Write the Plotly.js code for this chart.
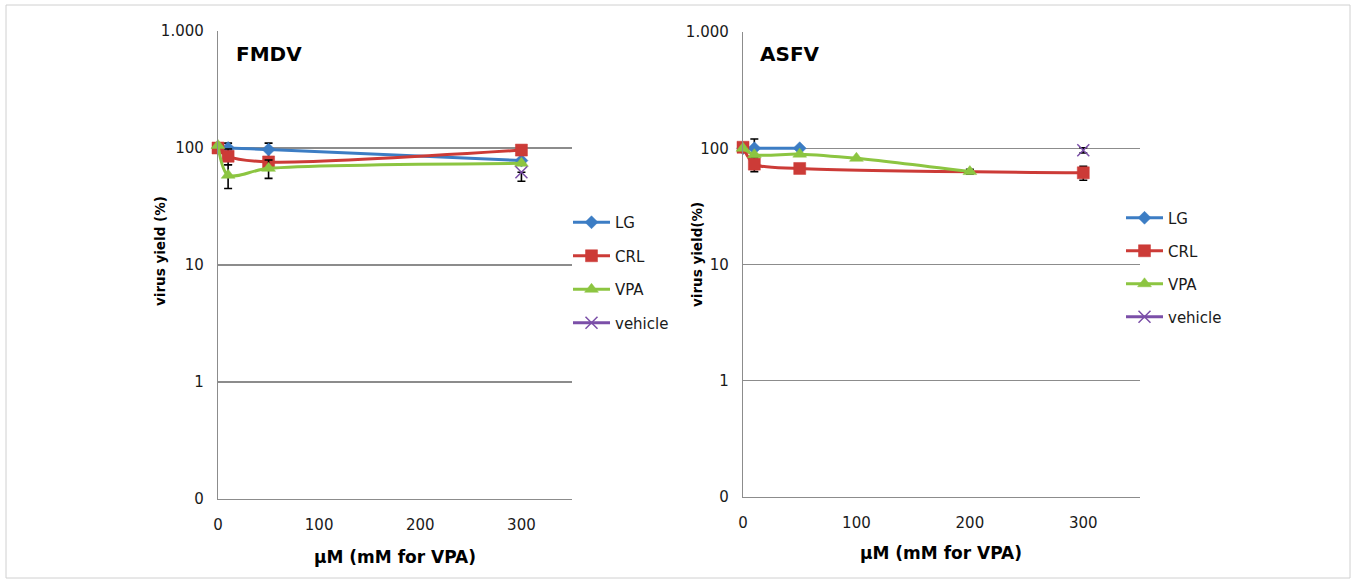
<!DOCTYPE html>
<html>
<head>
<meta charset="utf-8">
<script src="https://cdn.plot.ly/plotly-3.0.1.min.js"></script>
<style>
  html, body { margin: 0; padding: 0; background: #fff; }
  #chart { width: 1356px; height: 583px; }
</style>
</head>
<body>
<div id="chart"></div>
<script>
// ---------- data ----------
const seriesNames = ["LG", "CRL", "VPA", "vehicle"];
const seriesColors = ["#3c7dc4", "#cc3b37", "#8cc541", "#7b4fa8"];

// FMDV panel
const fmdvLGx = [0, 10, 50, 300];
const fmdvLGy = [100, 100, 97, 78];
const fmdvLGerr = [0, 10, 13, 0];
const fmdvCRLx = [0, 10, 50, 300];
const fmdvCRLy = [100, 85, 76, 96];
const fmdvCRLerr = [0, 13, 0, 0];
const fmdvVPAx = [0, 10, 50, 300];
const fmdvVPAy = [105, 58.5, 67, 74];
const fmdvVPAerr = [0, 13.5, 12, 0];
const fmdvVehx = [300];
const fmdvVehy = [62];
const fmdvVeherrPlus = [0];
const fmdvVeherrMinus = [10];

// ASFV panel
const asfvLGx = [0, 10, 50];
const asfvLGy = [100, 100, 100];
const asfvLGerr = [0, 20, 0];
const asfvCRLx = [0, 10, 50, 300];
const asfvCRLy = [102, 73, 67, 61.5];
const asfvCRLerr = [0, 10, 0, 8.5];
const asfvVPAx = [0, 10, 50, 100, 200];
const asfvVPAy = [100, 88, 89, 82, 63];
const asfvVPAerr = [0, 0, 0, 0, 3];
const asfvVehx = [300];
const asfvVehy = [96];
const asfvVeherr = [5];

const yTickVals = [0.1, 1, 10, 100, 1000];
const yTickText = ["0", "1", "10", "100", "1.000"];
const xTickVals = [0, 100, 200, 300];

const panelTitles = ["FMDV", "ASFV"];
const yTitles = ["virus yield (%)", "virus yield(%)"];
const xTitle = "µM (mM for VPA)";

// ---------- styling ----------
const FONT = "DejaVu Sans, Verdana, sans-serif";
const symbols = ["diamond", "square", "triangle-up", "x-thin"];
const sizes = [10, 12, 12, 12];

function makeTrace(i, x, y, errPlus, errMinus, xa, ya, legend) {
  return {
    type: "scatter",
    mode: "lines+markers",
    name: seriesNames[i],
    x: x, y: y,
    xaxis: xa, yaxis: ya,
    legend: legend,
    legendgroup: legend + seriesNames[i],
    cliponaxis: false,
    line: { color: seriesColors[i], width: 3, shape: "spline", smoothing: 0.8 },
    marker: {
      symbol: symbols[i],
      size: sizes[i],
      color: seriesColors[i],
      line: { color: seriesColors[i], width: i === 3 ? 1.5 : 0.5 }
    },
    error_y: {
      type: "data", array: errPlus, arrayminus: errMinus, symmetric: false, visible: true,
      color: "#000", thickness: 1.6, width: 4
    },
    hoverinfo: "x+y+name"
  };
}

const data = [
  makeTrace(0, fmdvLGx, fmdvLGy, fmdvLGerr, fmdvLGerr, "x", "y", "legend"),
  makeTrace(1, fmdvCRLx, fmdvCRLy, fmdvCRLerr, fmdvCRLerr, "x", "y", "legend"),
  makeTrace(2, fmdvVPAx, fmdvVPAy, fmdvVPAerr, fmdvVPAerr, "x", "y", "legend"),
  makeTrace(3, fmdvVehx, fmdvVehy, fmdvVeherrPlus, fmdvVeherrMinus, "x", "y", "legend"),
  makeTrace(0, asfvLGx, asfvLGy, asfvLGerr, asfvLGerr, "x2", "y2", "legend2"),
  makeTrace(1, asfvCRLx, asfvCRLy, asfvCRLerr, asfvCRLerr, "x2", "y2", "legend2"),
  makeTrace(2, asfvVPAx, asfvVPAy, asfvVPAerr, asfvVPAerr, "x2", "y2", "legend2"),
  makeTrace(3, asfvVehx, asfvVehy, asfvVeherr, asfvVeherr, "x2", "y2", "legend2")
];

const W = 1356, H = 583;
const px = v => v / W;
const py = v => (H - v) / H;

function xAxis(domain, anchor) {
  return {
    domain: domain, anchor: anchor,
    range: [0, 350],
    tickvals: xTickVals,
    ticks: "", showgrid: false, zeroline: false,
    showline: true, linecolor: "#8c8c8c", linewidth: 1.2,
    tickfont: { family: FONT, size: 15, color: "#1a1a1a" },
    ticklabelstandoff: 12,
    fixedrange: true
  };
}
function yAxis(domain, anchor) {
  return {
    domain: domain, anchor: anchor,
    type: "log",
    range: [-1, 3],
    tickvals: yTickVals, ticktext: yTickText,
    ticks: "", showgrid: true, gridcolor: "#8c8c8c", gridwidth: 1.2,
    zeroline: false,
    showline: true, linecolor: "#8c8c8c", linewidth: 1.2,
    tickfont: { family: FONT, size: 15, color: "#1a1a1a" },
    ticklabelstandoff: 10,
    fixedrange: true
  };
}

function legendCfg(x, y, gap) {
  return {
    x: x, y: y, xanchor: "left", yanchor: "top",
    xref: "paper", yref: "paper",
    font: { family: FONT, size: 15, color: "#1a1a1a" },
    bgcolor: "rgba(0,0,0,0)",
    traceorder: "grouped",
    tracegroupgap: gap,
    itemwidth: 37
  };
}

const layout = {
  width: W, height: H,
  margin: { l: 0, r: 0, t: 0, b: 0 },
  paper_bgcolor: "#fff", plot_bgcolor: "#fff",
  showlegend: true,
  xaxis: xAxis([px(218), px(572)], "y"),
  yaxis: yAxis([py(499), py(31)], "x"),
  xaxis2: xAxis([px(743), px(1140)], "y2"),
  yaxis2: yAxis([py(497), py(32)], "x2"),
  legend: legendCfg(px(568), py(206), 11),
  legend2: legendCfg(px(1121), py(201.5), 10.5),
  annotations: [
    { text: "<b>" + panelTitles[0] + "</b>", x: px(234), y: py(54), xref: "paper", yref: "paper",
      xanchor: "left", yanchor: "middle", showarrow: false,
      font: { family: FONT, size: 20, color: "#000" } },
    { text: "<b>" + panelTitles[1] + "</b>", x: px(758), y: py(54), xref: "paper", yref: "paper",
      xanchor: "left", yanchor: "middle", showarrow: false,
      font: { family: FONT, size: 20, color: "#000" } },
    { text: "<b>" + yTitles[0] + "</b>", x: px(160), y: py(251), xref: "paper", yref: "paper",
      xanchor: "center", yanchor: "middle", showarrow: false, textangle: -90,
      font: { family: FONT, size: 13.5, color: "#000" } },
    { text: "<b>" + yTitles[1] + "</b>", x: px(697), y: py(255), xref: "paper", yref: "paper",
      xanchor: "center", yanchor: "middle", showarrow: false, textangle: -90,
      font: { family: FONT, size: 13.5, color: "#000" } },
    { text: "<b>" + xTitle + "</b>", x: px(395), y: py(557), xref: "paper", yref: "paper",
      xanchor: "center", yanchor: "middle", showarrow: false,
      font: { family: FONT, size: 17, color: "#000" } },
    { text: "<b>" + xTitle + "</b>", x: px(941), y: py(553), xref: "paper", yref: "paper",
      xanchor: "center", yanchor: "middle", showarrow: false,
      font: { family: FONT, size: 17, color: "#000" } }
  ],
  shapes: [
    { type: "rect", xref: "paper", yref: "paper",
      x0: px(6), x1: px(1350), y0: py(578), y1: py(5),
      line: { color: "#d0d0d0", width: 1 }, fillcolor: "rgba(0,0,0,0)", layer: "below" }
  ]
};

Plotly.newPlot("chart", data, layout, { displayModeBar: false, staticPlot: true });
</script>
</body>
</html>
